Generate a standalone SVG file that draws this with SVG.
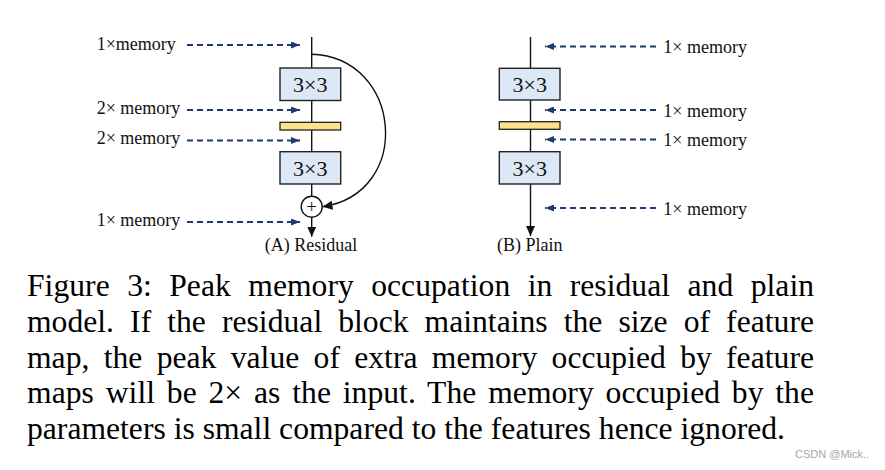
<svg xmlns="http://www.w3.org/2000/svg" width="885" height="470" viewBox="0 0 885 470">
<defs>
<style>
.lbl{font-family:"Liberation Serif","Times New Roman",serif;font-size:18px;fill:#111}
.box{fill:#dce8f5;stroke:#222;stroke-width:1.4}
.bar{fill:#fde28e;stroke:#222;stroke-width:1.3}
.btxt{font-family:"Liberation Serif","Times New Roman",serif;font-size:22px;fill:#111;text-anchor:middle}
.wire{stroke:#111;stroke-width:1.4;fill:none}
.dash{stroke:#1f3a6e;stroke-width:1.8;stroke-dasharray:6 4;fill:none}
.cap{font-family:"Liberation Serif","Times New Roman",serif;font-size:31.6px;fill:#000}
</style>
<marker id="nav" viewBox="0 0 9 7" refX="9" refY="3.5" markerWidth="9" markerHeight="7" markerUnits="userSpaceOnUse" orient="auto">
<path d="M0,0 L9,3.5 L0,7 z" fill="#1f3a6e"/>
</marker>
<marker id="blk" viewBox="0 0 10 9" refX="10" refY="4.5" markerWidth="10" markerHeight="9" markerUnits="userSpaceOnUse" orient="auto">
<path d="M0,0 L10,4.5 L0,9 z" fill="#111"/>
</marker>
</defs>
<rect width="885" height="470" fill="#fff"/>

<g id="connectors">
<line class="wire" x1="311.7" y1="37" x2="311.7" y2="196.2"/>
<line class="wire" x1="311.7" y1="217.2" x2="311.7" y2="236.7" marker-end="url(#blk)"/>
<path class="wire" d="M311.7,54.3 C402,57 414,193 322.5,206.7" marker-end="url(#blk)"/>
<line class="wire" x1="530.5" y1="37" x2="530.5" y2="236" marker-end="url(#blk)"/>
<line class="dash" x1="187" y1="45" x2="300" y2="45" marker-end="url(#nav)"/>
<line class="dash" x1="187" y1="110" x2="300" y2="110" marker-end="url(#nav)"/>
<line class="dash" x1="187" y1="140.5" x2="300" y2="140.5" marker-end="url(#nav)"/>
<line class="dash" x1="187" y1="222" x2="300" y2="222" marker-end="url(#nav)"/>
<line class="dash" x1="656" y1="46.5" x2="545" y2="46.5" marker-end="url(#nav)"/>
<line class="dash" x1="656" y1="110" x2="545" y2="110" marker-end="url(#nav)"/>
<line class="dash" x1="656" y1="139.5" x2="545" y2="139.5" marker-end="url(#nav)"/>
<line class="dash" x1="656" y1="208" x2="545" y2="208" marker-end="url(#nav)"/>
</g>

<g id="res-conv1"><rect class="box" x="280" y="68" width="60.7" height="32.5"/><text class="btxt" x="310.3" y="92.3">3×3</text></g>
<g id="res-bn"><rect class="bar" x="280" y="122.3" width="60.7" height="7.7"/></g>
<g id="res-conv2"><rect class="box" x="280" y="151.7" width="60.7" height="32.3"/><text class="btxt" x="310.3" y="175.5">3×3</text></g>
<g id="res-add"><circle cx="311.7" cy="206.7" r="10.5" fill="#fff" stroke="#111" stroke-width="1.4"/><text x="311.7" y="213" text-anchor="middle" style="font-family:'Liberation Serif',serif;font-size:19px;fill:#111">+</text></g>

<g id="plain-conv1"><rect class="box" x="499.3" y="68.3" width="60.7" height="31.7"/><text class="btxt" x="529.7" y="92.3">3×3</text></g>
<g id="plain-bn"><rect class="bar" x="499.3" y="121.7" width="60.7" height="7.6"/></g>
<g id="plain-conv2"><rect class="box" x="499.3" y="151.7" width="60.7" height="32.3"/><text class="btxt" x="529.7" y="175.5">3×3</text></g>

<g id="labels">
<text class="lbl" x="96.7" y="49.5">1×memory</text>
<text class="lbl" x="96.7" y="114">2× memory</text>
<text class="lbl" x="96.7" y="144">2× memory</text>
<text class="lbl" x="96.7" y="226">1× memory</text>
<text class="lbl" x="663.3" y="53">1× memory</text>
<text class="lbl" x="663.3" y="116.5">1× memory</text>
<text class="lbl" x="663.3" y="145.5">1× memory</text>
<text class="lbl" x="663.3" y="214.5">1× memory</text>
<text class="lbl" x="311" y="250.7" text-anchor="middle">(A) Residual</text>
<text class="lbl" x="529.7" y="250.7" text-anchor="middle">(B) Plain</text>
</g>

<g id="caption">
<text class="cap" x="27" y="296" word-spacing="9.5" textLength="787" lengthAdjust="spacing">Figure 3: Peak memory occupation in residual and plain</text>
<text class="cap" x="27" y="332" word-spacing="8.1" textLength="787" lengthAdjust="spacing">model. If the residual block maintains the size of feature</text>
<text class="cap" x="27" y="367.5" word-spacing="6.3" textLength="787" lengthAdjust="spacing">map, the peak value of extra memory occupied by feature</text>
<text class="cap" x="27" y="403" word-spacing="3.8" textLength="787" lengthAdjust="spacing">maps will be 2× as the input. The memory occupied by the</text>
<text class="cap" x="27" y="439" textLength="758" lengthAdjust="spacing">parameters is small compared to the features hence ignored.</text>
</g>
<text x="795" y="457.7" style="font-family:'Liberation Sans',Arial,sans-serif;font-size:11px;fill:#a8a8a8">CSDN @Mick..</text>
</svg>
